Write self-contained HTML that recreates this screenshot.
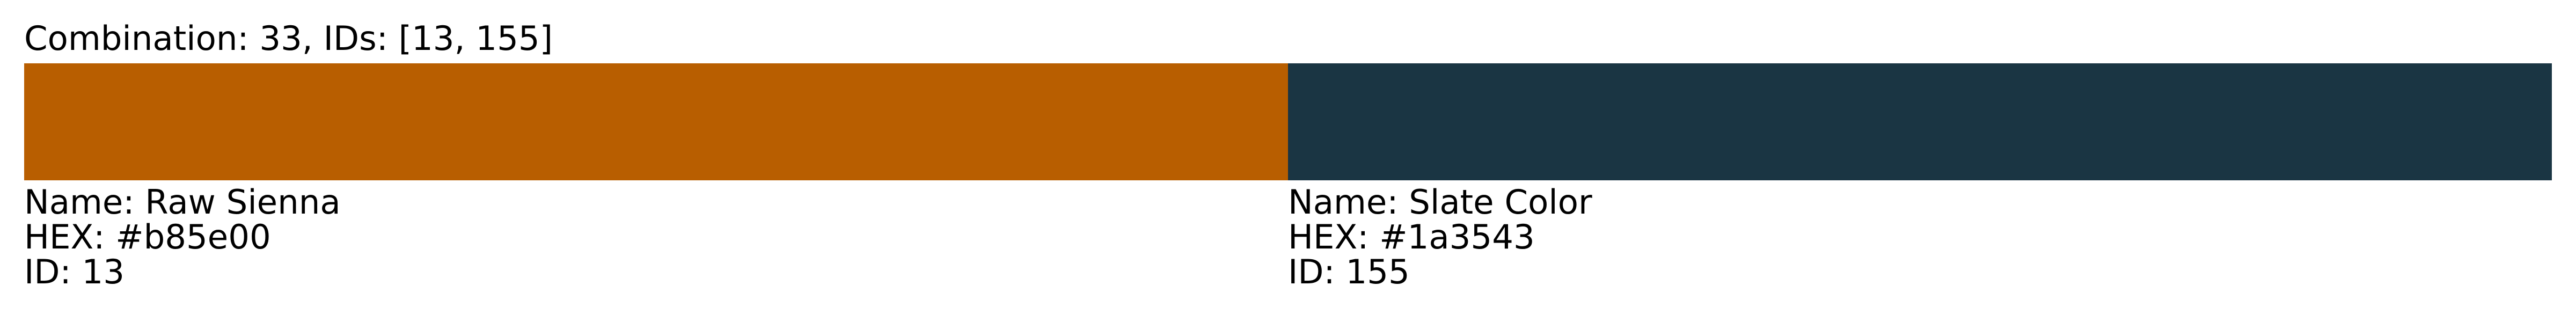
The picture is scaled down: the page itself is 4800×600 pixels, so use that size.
<!DOCTYPE html>
<html><head><meta charset="utf-8"><style>
html,body{margin:0;padding:0;width:4800px;height:600px;background:#fff;overflow:hidden;position:relative}
.t{position:absolute;font-family:"DejaVu Sans","Liberation Sans",sans-serif;font-size:62.5px;line-height:1;color:#000;white-space:nowrap}
.b{position:absolute;top:118px;height:218px}
</style></head><body>
<div class="t" style="left:45px;top:41px">Combination: 33, IDs: [13, 155]</div>
<div class="b" style="left:45px;width:2355px;background:#b85e00"></div>
<div class="b" style="left:2400px;width:2355px;background:#1a3543"></div>
<div class="t" style="left:45px;top:346px">Name: Raw Sienna</div>
<div class="t" style="left:45px;top:411px">HEX: #b85e00</div>
<div class="t" style="left:45px;top:476px">ID: 13</div>
<div class="t" style="left:2400px;top:346px">Name: Slate Color</div>
<div class="t" style="left:2400px;top:411px">HEX: #1a3543</div>
<div class="t" style="left:2400px;top:476px">ID: 155</div>
</body></html>
